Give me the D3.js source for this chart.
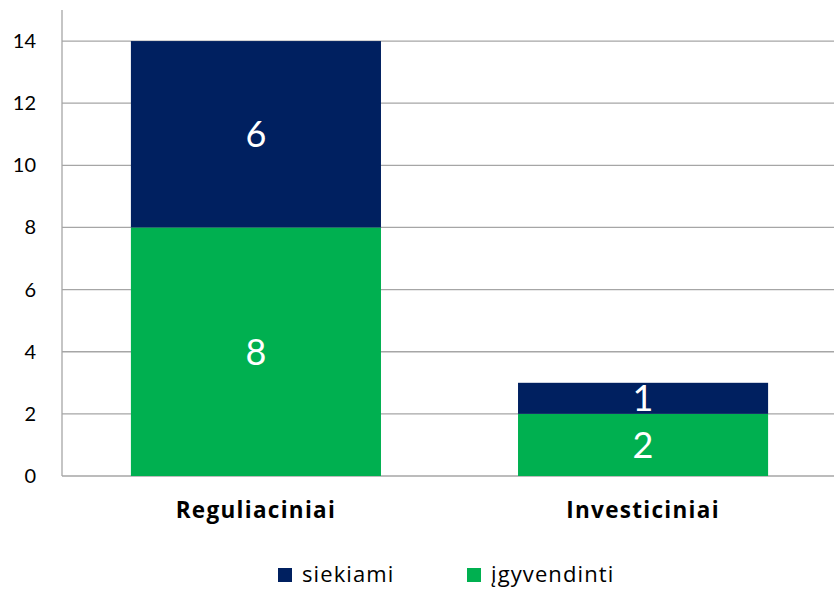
<!DOCTYPE html>
<html><head><meta charset="utf-8">
<script src="https://cdn.jsdelivr.net/npm/d3@7"></script>
<style>body{margin:0;background:#fff}svg{display:block}</style>
</head><body>
<script>
const categories = ["Reguliaciniai", "Investiciniai"];
const seriesNames = ["įgyvendinti", "siekiami"];
const igyvendinti = [8, 2];
const siekiami = [6, 1];
const yTicks = [0, 2, 4, 6, 8, 10, 12, 14];
const colors = {"įgyvendinti": "#00B050", "siekiami": "#002060"};

const W = 834, H = 589;
const font = "Lato, 'Open Sans', sans-serif";
const font2 = "'Open Sans', Lato, sans-serif";
const svg = d3.select("body").append("svg").attr("width", W).attr("height", H);

const x0 = 62, x1 = 834, yTop = 10, yBot = 476;
const x = d3.scaleBand().domain(categories).range([x0, 837]).paddingInner(0.354).paddingOuter(0.178);
const y = d3.scaleLinear().domain([0, 15]).range([yBot, yTop]);

// gridlines
svg.append("g").selectAll("line").data(yTicks).join("line")
  .attr("x1", x0).attr("x2", x1).attr("y1", d => y(d)).attr("y2", d => y(d))
  .attr("stroke", "#a6a6a6").attr("stroke-width", 1.3);

const rows = categories.map((c, i) => ({cat: c, "įgyvendinti": igyvendinti[i], "siekiami": siekiami[i]}));
const stack = d3.stack().keys(seriesNames)(rows);

const g = svg.append("g");
stack.forEach(s => {
  g.selectAll(null).data(s).join("rect")
    .attr("x", d => x(d.data.cat)).attr("width", x.bandwidth())
    .attr("y", d => y(d[1])).attr("height", d => y(d[0]) - y(d[1]))
    .attr("fill", colors[s.key]);
  g.selectAll(null).data(s).join("text")
    .attr("x", d => x(d.data.cat) + x.bandwidth() / 2)
    .attr("y", d => (y(d[0]) + y(d[1])) / 2)
    .attr("dy", "0.36em")
    .attr("text-anchor", "middle").attr("fill", "#fff")
    .attr("font-family", font).attr("font-size", 36)
    .text(d => d[1] - d[0]);
});

// y axis
const yAxis = svg.append("g").attr("transform", `translate(${x0},0)`)
  .call(d3.axisLeft(y).tickValues(yTicks).tickSize(0).tickPadding(26));
yAxis.select(".domain").attr("stroke", "#a6a6a6").attr("stroke-width", 1.3).attr("d", `M0,${yTop}V${yBot}`);
yAxis.selectAll("text").attr("font-family", font).attr("font-size", 20).attr("fill", "#000");

// x labels
svg.append("g").selectAll("text").data(categories).join("text")
  .attr("x", d => x(d) + x.bandwidth() / 2).attr("y", 518)
  .attr("text-anchor", "middle").attr("font-family", font2).attr("font-weight", "bold")
  .attr("font-size", 22.5).attr("letter-spacing", 1.3).attr("fill", "#000").text(d => d);

// legend
const legendItems = [{name: "siekiami", x: 278}, {name: "įgyvendinti", x: 467}];
const lg = svg.append("g");
legendItems.forEach(it => {
  lg.append("rect").attr("x", it.x).attr("y", 568).attr("width", 14).attr("height", 14).attr("fill", colors[it.name]);
  lg.append("text").attr("x", it.x + 24).attr("y", 582).attr("font-family", font2).attr("font-size", 22)
    .attr("letter-spacing", 1.1).attr("fill", "#000").text(it.name);
});
</script>
</body></html>
